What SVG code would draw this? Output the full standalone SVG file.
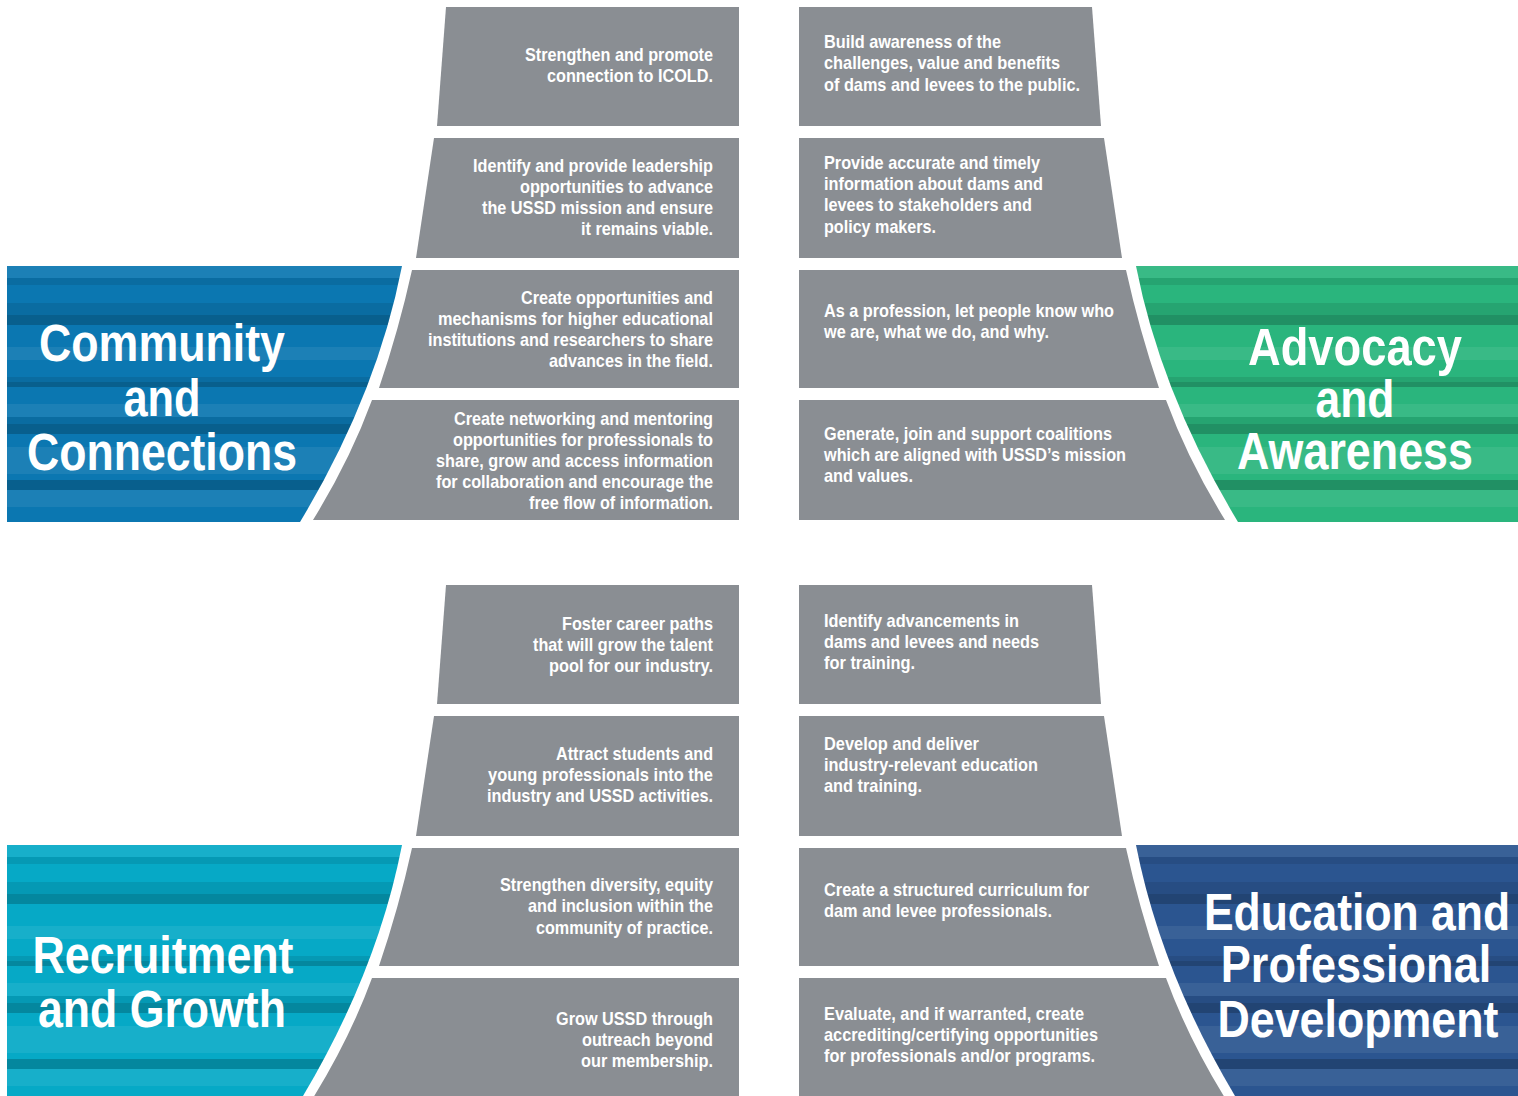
<svg xmlns="http://www.w3.org/2000/svg" xmlns:xlink="http://www.w3.org/1999/xlink" width="1518" height="1096" viewBox="0 0 1518 1096">
<style>
.box{fill:#8a8e93}
.t{font-family:"Liberation Sans",Arial,sans-serif;font-weight:bold;font-size:19px;fill:#ffffff}
.e{text-anchor:end}
.ttl{font-family:"Liberation Sans",Arial,sans-serif;font-weight:bold;font-size:51px;fill:#ffffff;text-anchor:middle}
.d1{fill:#000;opacity:0.09}
.d2{fill:#000;opacity:0.2}
.l1{fill:#fff;opacity:0.07}
</style>
<defs>
<g id="stripes">
<rect class="l1" x="0" y="0" width="1518" height="12"/>
<rect class="d1" x="0" y="12" width="1518" height="7"/>
<rect class="d1" x="0" y="37" width="1518" height="12"/>
<rect class="d2" x="0" y="49" width="1518" height="10"/>
<rect class="l1" x="0" y="81" width="1518" height="13"/>
<rect class="d1" x="0" y="111" width="1518" height="5"/>
<rect class="d2" x="0" y="116" width="1518" height="5"/>
<rect class="l1" x="0" y="138" width="1518" height="13"/>
<rect class="d1" x="0" y="151" width="1518" height="7"/>
<rect class="d2" x="0" y="158" width="1518" height="10"/>
<rect class="l1" x="0" y="181" width="1518" height="27"/>
<rect class="d2" x="0" y="214" width="1518" height="10"/>
<rect class="l1" x="0" y="224" width="1518" height="17"/>
</g>
<path id="pL1" d="M7,266 H402 Q377,394 300,522 H7 Z"/>
<path id="pR1" d="M1531,266 H1136 Q1161,394 1238,522 H1531 Z"/>
<path id="pL2" d="M7,845 H402 Q377,973 300,1101 H7 Z"/>
<path id="pR2" d="M1531,845 H1136 Q1161,973 1238,1101 H1531 Z"/>
<clipPath id="cL1"><use xlink:href="#pL1"/></clipPath>
<clipPath id="cR1"><use xlink:href="#pR1"/></clipPath>
<clipPath id="cL2"><use xlink:href="#pL2"/></clipPath>
<clipPath id="cR2"><use xlink:href="#pR2"/></clipPath>
<g id="leftBoxes">
<path d="M446,7 H739 V126 H437 Z"/>
<path d="M434,138 H739 V258 H416 Z"/>
<path d="M412,270 H739 V388 H379 Q399,329 412,270 Z"/>
<path d="M372,400 H739 V520 H313 Q350,460 372,400 Z"/>
</g>
</defs>
<rect width="1518" height="1096" fill="#ffffff"/>

<!-- Community and Connections -->
<g id="community-panel">
<g clip-path="url(#cL1)"><rect x="0" y="260" width="420" height="270" fill="#0b77b1"/><use xlink:href="#stripes" y="266"/></g>
<text class="ttl" x="162" y="361" textLength="246" lengthAdjust="spacingAndGlyphs">Community</text>
<text class="ttl" x="162" y="416" textLength="77" lengthAdjust="spacingAndGlyphs">and</text>
<text class="ttl" x="162" y="470" textLength="270" lengthAdjust="spacingAndGlyphs">Connections</text>
</g>
<g id="community-goals">
<use xlink:href="#leftBoxes" class="box"/>
<text class="t e" x="713" y="61" textLength="188" lengthAdjust="spacingAndGlyphs">Strengthen and promote</text>
<text class="t e" x="713" y="82" textLength="166" lengthAdjust="spacingAndGlyphs">connection to ICOLD.</text>
<text class="t e" x="713" y="171.5" textLength="240" lengthAdjust="spacingAndGlyphs">Identify and provide leadership</text>
<text class="t e" x="713" y="192.5" textLength="193" lengthAdjust="spacingAndGlyphs">opportunities to advance</text>
<text class="t e" x="713" y="214" textLength="231" lengthAdjust="spacingAndGlyphs">the USSD mission and ensure</text>
<text class="t e" x="713" y="235" textLength="132" lengthAdjust="spacingAndGlyphs">it remains viable.</text>
<text class="t e" x="713" y="303.5" textLength="192" lengthAdjust="spacingAndGlyphs">Create opportunities and</text>
<text class="t e" x="713" y="324.5" textLength="275" lengthAdjust="spacingAndGlyphs">mechanisms for higher educational</text>
<text class="t e" x="713" y="345.5" textLength="285" lengthAdjust="spacingAndGlyphs">institutions and researchers to share</text>
<text class="t e" x="713" y="366.5" textLength="164" lengthAdjust="spacingAndGlyphs">advances in the field.</text>
<text class="t e" x="713" y="425" textLength="259" lengthAdjust="spacingAndGlyphs">Create networking and mentoring</text>
<text class="t e" x="713" y="446" textLength="260" lengthAdjust="spacingAndGlyphs">opportunities for professionals to</text>
<text class="t e" x="713" y="467" textLength="277" lengthAdjust="spacingAndGlyphs">share, grow and access information</text>
<text class="t e" x="713" y="488" textLength="277" lengthAdjust="spacingAndGlyphs">for collaboration and encourage the</text>
<text class="t e" x="713" y="508.5" textLength="184" lengthAdjust="spacingAndGlyphs">free flow of information.</text>
</g>

<!-- Advocacy and Awareness -->
<g id="advocacy-panel">
<g clip-path="url(#cR1)"><rect x="1120" y="260" width="398" height="270" fill="#2ab57d"/><use xlink:href="#stripes" y="266"/></g>
<text class="ttl" x="1355" y="365" textLength="214" lengthAdjust="spacingAndGlyphs">Advocacy</text>
<text class="ttl" x="1355" y="417" textLength="79" lengthAdjust="spacingAndGlyphs">and</text>
<text class="ttl" x="1355" y="469" textLength="236" lengthAdjust="spacingAndGlyphs">Awareness</text>
</g>
<g id="advocacy-goals">
<use xlink:href="#leftBoxes" class="box" transform="matrix(-1 0 0 1 1538 0)"/>
<text class="t" x="824" y="48" textLength="177" lengthAdjust="spacingAndGlyphs">Build awareness of the</text>
<text class="t" x="824" y="69" textLength="236" lengthAdjust="spacingAndGlyphs">challenges, value and benefits</text>
<text class="t" x="824" y="90.5" textLength="256" lengthAdjust="spacingAndGlyphs">of dams and levees to the public.</text>
<text class="t" x="824" y="168.5" textLength="216" lengthAdjust="spacingAndGlyphs">Provide accurate and timely</text>
<text class="t" x="824" y="190" textLength="219" lengthAdjust="spacingAndGlyphs">information about dams and</text>
<text class="t" x="824" y="211" textLength="208" lengthAdjust="spacingAndGlyphs">levees to stakeholders and</text>
<text class="t" x="824" y="232.5" textLength="112" lengthAdjust="spacingAndGlyphs">policy makers.</text>
<text class="t" x="824" y="316.5" textLength="290" lengthAdjust="spacingAndGlyphs">As a profession, let people know who</text>
<text class="t" x="824" y="337.5" textLength="225" lengthAdjust="spacingAndGlyphs">we are, what we do, and why.</text>
<text class="t" x="824" y="440" textLength="288" lengthAdjust="spacingAndGlyphs">Generate, join and support coalitions</text>
<text class="t" x="824" y="461" textLength="302" lengthAdjust="spacingAndGlyphs">which are aligned with USSD’s mission</text>
<text class="t" x="824" y="482" textLength="89" lengthAdjust="spacingAndGlyphs">and values.</text>
</g>

<!-- Recruitment and Growth -->
<g id="recruitment-panel">
<g clip-path="url(#cL2)"><rect x="0" y="840" width="420" height="256" fill="#06a9c6"/><use xlink:href="#stripes" y="845"/></g>
<text class="ttl" x="163" y="973" textLength="261" lengthAdjust="spacingAndGlyphs">Recruitment</text>
<text class="ttl" x="162" y="1027" textLength="248" lengthAdjust="spacingAndGlyphs">and Growth</text>
</g>
<g id="recruitment-goals">
<use xlink:href="#leftBoxes" class="box" transform="translate(0 578)"/>
<text class="t e" x="713" y="630" textLength="151" lengthAdjust="spacingAndGlyphs">Foster career paths</text>
<text class="t e" x="713" y="651" textLength="180" lengthAdjust="spacingAndGlyphs">that will grow the talent</text>
<text class="t e" x="713" y="672" textLength="164" lengthAdjust="spacingAndGlyphs">pool for our industry.</text>
<text class="t e" x="713" y="760" textLength="157" lengthAdjust="spacingAndGlyphs">Attract students and</text>
<text class="t e" x="713" y="781" textLength="225" lengthAdjust="spacingAndGlyphs">young professionals into the</text>
<text class="t e" x="713" y="802" textLength="226" lengthAdjust="spacingAndGlyphs">industry and USSD activities.</text>
<text class="t e" x="713" y="891" textLength="213" lengthAdjust="spacingAndGlyphs">Strengthen diversity, equity</text>
<text class="t e" x="713" y="912" textLength="185" lengthAdjust="spacingAndGlyphs">and inclusion within the</text>
<text class="t e" x="713" y="933.5" textLength="177" lengthAdjust="spacingAndGlyphs">community of practice.</text>
<text class="t e" x="713" y="1024.5" textLength="157" lengthAdjust="spacingAndGlyphs">Grow USSD through</text>
<text class="t e" x="713" y="1045.5" textLength="131" lengthAdjust="spacingAndGlyphs">outreach beyond</text>
<text class="t e" x="713" y="1066.5" textLength="132" lengthAdjust="spacingAndGlyphs">our membership.</text>
</g>

<!-- Education and Professional Development -->
<g id="education-panel">
<g clip-path="url(#cR2)"><rect x="1120" y="840" width="398" height="256" fill="#2b5590"/><use xlink:href="#stripes" y="845"/></g>
<text class="ttl" transform="translate(1357 929.5) scale(0.875 1)" x="0" y="0" textLength="350" lengthAdjust="spacingAndGlyphs">Education and</text>
<text class="ttl" transform="translate(1356 982) scale(0.875 1)" x="0" y="0" textLength="309" lengthAdjust="spacingAndGlyphs">Professional</text>
<text class="ttl" transform="translate(1358 1036.5) scale(0.875 1)" x="0" y="0" textLength="321" lengthAdjust="spacingAndGlyphs">Development</text>
</g>
<g id="education-goals">
<use xlink:href="#leftBoxes" class="box" transform="matrix(-1 0 0 1 1538 578)"/>
<text class="t" x="824" y="627" textLength="195" lengthAdjust="spacingAndGlyphs">Identify advancements in</text>
<text class="t" x="824" y="648" textLength="215" lengthAdjust="spacingAndGlyphs">dams and levees and needs</text>
<text class="t" x="824" y="668.5" textLength="91" lengthAdjust="spacingAndGlyphs">for training.</text>
<text class="t" x="824" y="750" textLength="155" lengthAdjust="spacingAndGlyphs">Develop and deliver</text>
<text class="t" x="824" y="771" textLength="214" lengthAdjust="spacingAndGlyphs">industry-relevant education</text>
<text class="t" x="824" y="792" textLength="98" lengthAdjust="spacingAndGlyphs">and training.</text>
<text class="t" x="824" y="896" textLength="265" lengthAdjust="spacingAndGlyphs">Create a structured curriculum for</text>
<text class="t" x="824" y="917" textLength="228" lengthAdjust="spacingAndGlyphs">dam and levee professionals.</text>
<text class="t" x="824" y="1019.5" textLength="260" lengthAdjust="spacingAndGlyphs">Evaluate, and if warranted, create</text>
<text class="t" x="824" y="1040.5" textLength="274" lengthAdjust="spacingAndGlyphs">accrediting/certifying opportunities</text>
<text class="t" x="824" y="1062" textLength="271" lengthAdjust="spacingAndGlyphs">for professionals and/or programs.</text>
</g>

<g id="connectors"/>
</svg>
